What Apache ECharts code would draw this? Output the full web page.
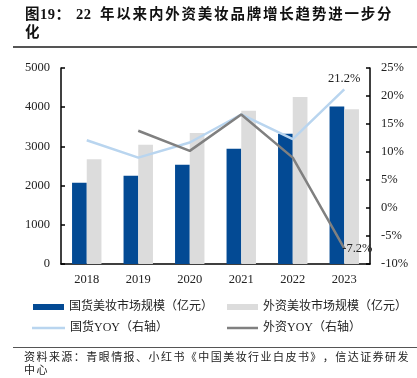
<!DOCTYPE html>
<html><head><meta charset="utf-8">
<script src="https://cdn.jsdelivr.net/npm/echarts@6/dist/echarts.min.js"></script>
<style>html,body{margin:0;padding:0;background:#fff;}#c{width:417px;height:378px;}</style>
</head><body><div id="c"></div>
<script>
const categories = ['2018','2019','2020','2021','2022','2023'];
const domesticSize = [2070, 2250, 2530, 2940, 3320, 4020];
const foreignSize = [2670, 3040, 3340, 3910, 4260, 3950];
const domesticYoy = [12.1, 9.0, 11.7, 16.7, 12.3, 21.2];
const foreignYoy = [null, 13.8, 10.2, 16.7, 9.0, -7.2];
const leftTicks = {min: 0, max: 5000, interval: 1000};
const rightTicks = {min: -10, max: 25, interval: 5};

const serif = '"Liberation Serif", "Noto Sans CJK SC", serif';
const cjk = '"Liberation Serif", "Noto Sans CJK SC", serif';
const C_DARK = '#034a94', C_GRAY = '#dcdcdc', C_LB = '#b9d5ef', C_DG = '#808080';

const mctx = document.createElement('canvas').getContext('2d');
function spaced(str, x, y, font, spacing, fill) {
  mctx.font = font;
  const out = [];
  let cx = x;
  for (const ch of str) {
    out.push({type: 'text', x: cx, y: y, style: {text: ch, font: font, fill: fill, textVerticalAlign: 'middle'}});
    cx += mctx.measureText(ch).width + spacing;
  }
  return out;
}
const titleFont = 'bold 14.5px ' + serif;
const srcFont = '11px ' + cjk;
const graphics = [].concat(
  spaced('图19：', 25, 15, titleFont, 0.5, '#111'),
  spaced('22', 76, 15, titleFont, 0.5, '#111'),
  spaced('年以来内外资美妆品牌增长趋势进一步分', 100, 15, titleFont, 1.8, '#111'),
  spaced('化', 25, 33, titleFont, 0, '#111'),
  [{type: 'line', shape: {x1: 13, y1: 47, x2: 417, y2: 47}, style: {stroke: '#555', lineWidth: 2}},
   {type: 'line', shape: {x1: 13, y1: 347.5, x2: 417, y2: 347.5}, style: {stroke: '#555', lineWidth: 1.2}}],
  spaced('资料来源：青眼情报、小红书《中国美妆行业白皮书》，信达证券研发', 24, 358.5, srcFont, 1.45, '#222'),
  spaced('中心', 24, 371.5, srcFont, 1.45, '#222')
);

const chart = echarts.init(document.getElementById('c'), null, {renderer: 'canvas'});
const lastIdx = categories.length - 1;
const legendBase = {orient: 'horizontal', itemGap: 4, textStyle: {fontFamily: cjk, fontSize: 12, color: '#222'}, selectedMode: false};
chart.setOption({
  animation: false,
  backgroundColor: '#fff',
  grid: {left: 61, right: 47, top: 68, bottom: 114},
  graphic: graphics,
  legend: [
    Object.assign({}, legendBase, {left: 28, top: 296, itemWidth: 31, itemHeight: 6, data: [{name: '国货美妆市场规模（亿元）', icon: 'rect'}]}),
    Object.assign({}, legendBase, {left: 222, top: 296, itemWidth: 31, itemHeight: 6, data: [{name: '外资美妆市场规模（亿元）', icon: 'rect'}]}),
    Object.assign({}, legendBase, {left: 27, top: 317, itemWidth: 33, itemHeight: 2.5, data: [{name: '国货YOY（右轴）', icon: 'rect'}]}),
    Object.assign({}, legendBase, {left: 222, top: 317, itemWidth: 31, itemHeight: 2.5, data: [{name: '外资YOY（右轴）', icon: 'rect'}]})
  ],
  xAxis: {
    type: 'category', data: categories,
    axisLine: {lineStyle: {color: '#000', width: 1.5}},
    axisTick: {show: false},
    axisLabel: {fontFamily: serif, fontSize: 12.5, color: '#222', margin: 9}
  },
  yAxis: [
    {type: 'value', min: leftTicks.min, max: leftTicks.max, interval: leftTicks.interval, position: 'left',
     axisLine: {show: true, lineStyle: {color: '#000', width: 1.5}},
     axisTick: {show: true, inside: true, length: 4, lineStyle: {color: '#000', width: 1.5}},
     splitLine: {show: false},
     axisLabel: {fontFamily: serif, fontSize: 12.5, color: '#222', margin: 11, formatter: v => String(v)}},
    {type: 'value', min: rightTicks.min, max: rightTicks.max, interval: rightTicks.interval, position: 'right',
     axisLine: {show: true, lineStyle: {color: '#000', width: 1.5}},
     axisTick: {show: true, inside: true, length: 4, lineStyle: {color: '#000', width: 1.5}},
     splitLine: {show: false},
     axisLabel: {fontFamily: serif, fontSize: 12.5, color: '#222', margin: 11, formatter: '{value}%'}}
  ],
  series: [
    {name: '国货美妆市场规模（亿元）', type: 'bar', data: domesticSize, barWidth: 14.7, barGap: '0%', itemStyle: {color: C_DARK}},
    {name: '外资美妆市场规模（亿元）', type: 'bar', data: foreignSize, barWidth: 14.7, barGap: '0%', itemStyle: {color: C_GRAY}},
    {name: '国货YOY（右轴）', type: 'line', yAxisIndex: 1, data: domesticYoy.map((v, i) => i === lastIdx ? {value: v, label: {show: true}} : v),
     symbol: 'circle', symbolSize: 0.01, showSymbol: true, lineStyle: {color: C_LB, width: 2.5}, itemStyle: {color: C_LB},
     label: {show: false, position: 'top', distance: 4, fontFamily: serif, fontSize: 12.5, color: '#222', formatter: p => p.value.toFixed(1) + '%'}},
    {name: '外资YOY（右轴）', type: 'line', yAxisIndex: 1, data: foreignYoy.map((v, i) => i === lastIdx ? {value: v, label: {show: true}} : v),
     symbol: 'circle', symbolSize: 0.01, showSymbol: true, lineStyle: {color: C_DG, width: 2.5}, itemStyle: {color: C_DG},
     label: {show: false, position: 'right', distance: -2, fontFamily: serif, fontSize: 12.5, color: '#222', formatter: p => p.value.toFixed(1) + '%'}}
  ]
});
</script></body></html>
